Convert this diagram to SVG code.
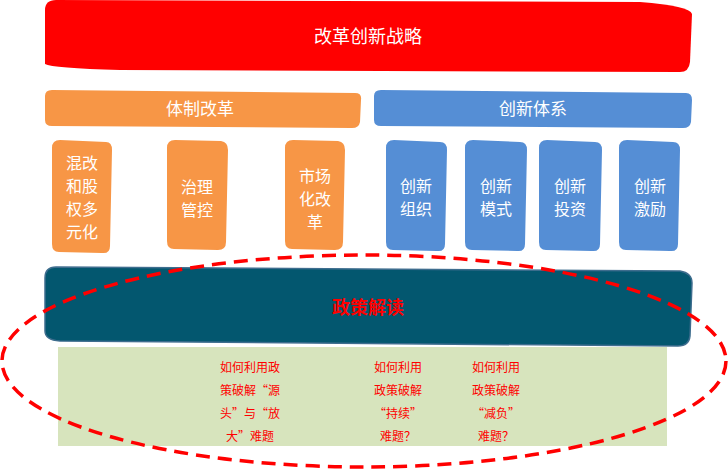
<svg xmlns="http://www.w3.org/2000/svg" width="728" height="469" viewBox="0 0 728 469">
<style>
.t{font-family:"Noto Sans CJK SC","Noto Sans",sans-serif;fill:#fff;text-anchor:middle}
.big{font-size:18px}
.mid{font-size:17px}
.sm{font-size:16px}
.q{font-family:"Noto Sans CJK SC","Noto Sans",sans-serif;fill:#ff0000;font-size:12px;text-anchor:middle}
.or{fill:#f79646}
.bl{fill:#558ed5}
</style>
<rect width="728" height="469" fill="#fff"/>
<g id="strategy">
<path d="M56,0 L640,2 Q690,6 692,14 L690,62 Q689,72 680,72 L120,70 Q52,68 45,64 L45,10 Q45,0 56,0 Z" fill="#ff0000"/>
<text class="t big" x="368" y="43">改革创新战略</text>
</g>
<g id="tizhi">
<path d="M52,90 L355,93 Q362,93 361,100 L360,122 Q359,128 352,128 L52,126 Q45,126 45,120 L45,96 Q45,90 52,90 Z" class="or"/>
<text class="t mid" x="200" y="115">体制改革</text>
</g>
<g id="tixi">
<path d="M381,90 L686,93 Q692,93 692,100 L691,122 Q690,128 683,128 L381,126 Q374,126 374,120 L374,96 Q374,90 381,90 Z" class="bl"/>
<text class="t mid" x="533" y="115">创新体系</text>
</g>
<g id="hungai">
<path d="M60,140 L106,142 Q112,142 112,150 L110,246 Q110,254 102,253 L59,252 Q52,252 52,244 L52,148 Q52,140 60,140 Z" class="or"/>
<text class="t sm" x="82" y="169">混改</text>
<text class="t sm" x="82" y="192">和股</text>
<text class="t sm" x="82" y="215">权多</text>
<text class="t sm" x="82" y="238">元化</text>
</g>
<g id="zhili">
<path d="M175,140 L221,141 Q228,142 228,150 L226,242 Q226,250 218,250 L174,249 Q167,249 167,241 L167,148 Q167,140 175,140 Z" class="or"/>
<text class="t sm" x="197" y="193">治理</text>
<text class="t sm" x="197" y="216">管控</text>
</g>
<g id="shichang">
<path d="M293,140 L338,141 Q345,142 345,150 L343,242 Q343,250 335,250 L292,249 Q285,249 285,241 L285,148 Q285,140 293,140 Z" class="or"/>
<text class="t sm" x="315" y="182">市场</text>
<text class="t sm" x="315" y="205">化改</text>
<text class="t sm" x="315" y="228">革</text>
</g>
<g id="zuzhi">
<path d="M394,140 L440,142 Q447,142 447,150 L445,244 Q445,252 437,251 L393,250 Q386,250 386,242 L386,148 Q386,140 394,140 Z" class="bl"/>
<text class="t sm" x="416" y="192">创新</text>
<text class="t sm" x="416" y="215">组织</text>
</g>
<g id="moshi">
<path d="M473,140 L520,142 Q527,142 527,150 L525,244 Q525,252 517,251 L472,250 Q465,250 465,242 L465,148 Q465,140 473,140 Z" class="bl"/>
<text class="t sm" x="496" y="192">创新</text>
<text class="t sm" x="496" y="215">模式</text>
</g>
<g id="touzi">
<path d="M547,140 L595,142 Q602,142 602,150 L600,244 Q600,252 592,251 L546,250 Q539,250 539,242 L539,148 Q539,140 547,140 Z" class="bl"/>
<text class="t sm" x="570" y="192">创新</text>
<text class="t sm" x="570" y="215">投资</text>
</g>
<g id="jili">
<path d="M627,140 L673,142 Q680,142 680,150 L678,244 Q678,252 670,251 L626,250 Q619,250 619,242 L619,148 Q619,140 627,140 Z" class="bl"/>
<text class="t sm" x="650" y="192">创新</text>
<text class="t sm" x="650" y="215">激励</text>
</g>
<g id="green">
<rect x="58" y="347" width="609" height="99" fill="#d7e4bd"/>
<text class="q" x="250" y="372">如何利用政</text>
<text class="q" x="250" y="395">策破解“源</text>
<text class="q" x="250" y="418">头”与“放</text>
<text class="q" x="250" y="441">大”难题</text>
<text class="q" x="398" y="372">如何利用</text>
<text class="q" x="398" y="395">政策破解</text>
<text class="q" x="398" y="418">“持续”</text>
<text class="q" x="398" y="441">难题？</text>
<text class="q" x="496" y="372">如何利用</text>
<text class="q" x="496" y="395">政策破解</text>
<text class="q" x="496" y="418">“减负”</text>
<text class="q" x="496" y="441">难题？</text>
</g>
<g id="policy">
<path d="M56,267 L680,271 Q692,273 692,283 L690,336 Q689,346 678,346 L60,341 Q45,340 45,331 L45,278 Q45,267 56,267 Z" fill="#03576f" stroke="#3e6d8e" stroke-width="1.5"/>
<text x="368" y="314" font-family="'Noto Sans CJK SC','Noto Sans',sans-serif" font-size="18" font-weight="bold" fill="#ff0000" text-anchor="middle">政策解读</text>
</g>
<g id="connectors">
<ellipse cx="364" cy="361" rx="362" ry="106" fill="none" stroke="#ff0000" stroke-width="3.5" stroke-dasharray="14,8"/>
</g>
</svg>
